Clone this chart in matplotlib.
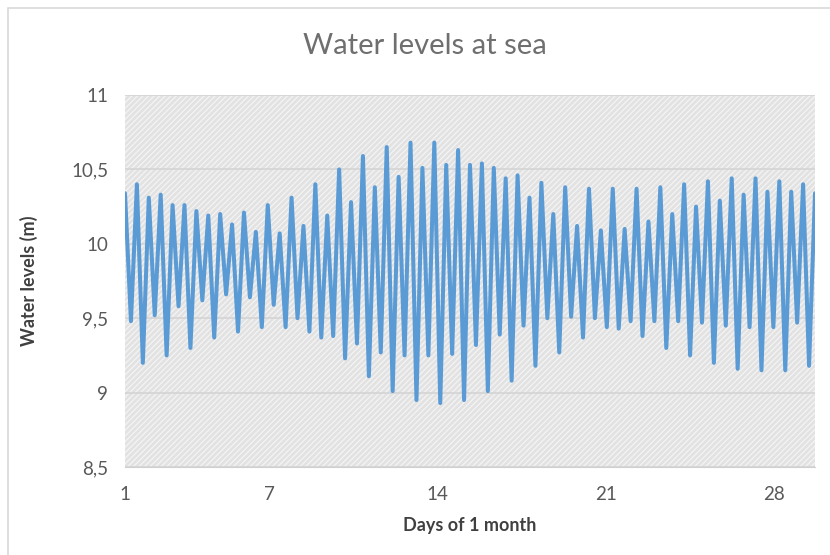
import numpy as np
import matplotlib
matplotlib.use("Agg")
import matplotlib.pyplot as plt
from matplotlib.patches import Rectangle
from matplotlib.ticker import FuncFormatter

high_tides = [10.34, 10.40, 10.31, 10.33, 10.26, 10.26, 10.22, 10.19, 10.20, 10.13,
              10.21, 10.08, 10.26, 10.07, 10.31, 10.12, 10.40, 10.19, 10.50, 10.28,
              10.59, 10.38, 10.65, 10.45, 10.68, 10.51, 10.68, 10.53, 10.63,
              10.53, 10.54, 10.51, 10.44, 10.46, 10.31, 10.41, 10.20, 10.38, 10.12,
              10.37, 10.09, 10.37, 10.10, 10.37, 10.15, 10.38, 10.20, 10.40, 10.25,
              10.42, 10.29, 10.44, 10.33, 10.44, 10.35, 10.42, 10.35, 10.40, 10.34]
low_tides = [9.48, 9.20, 9.52, 9.25, 9.58, 9.30, 9.62, 9.37, 9.66, 9.41,
             9.64, 9.44, 9.59, 9.44, 9.50, 9.41, 9.37, 9.38, 9.23,
             9.33, 9.11, 9.27, 9.01, 9.25, 8.95, 9.25, 8.93, 9.26, 8.95,
             9.32, 9.01, 9.39, 9.08, 9.45, 9.18, 9.50, 9.27, 9.51, 9.37,
             9.50, 9.44, 9.43, 9.48, 9.38, 9.48, 9.30, 9.48, 9.25,
             9.47, 9.20, 9.45, 9.16, 9.44, 9.15, 9.44, 9.15, 9.47, 9.18]
hours_between = 5.94
day_ticks = [1, 7, 14, 21, 28]
level_ticks = [8.5, 9, 9.5, 10, 10.5, 11]

levels = np.empty(len(high_tides) + len(low_tides))
levels[0::2] = high_tides
levels[1::2] = low_tides
days = 1 + np.arange(len(levels)) * hours_between / 24

plt.rcParams['font.family'] = ['Lato', 'DejaVu Sans']
plt.rcParams['hatch.linewidth'] = 0.9

fig = plt.figure(figsize=(8.3, 5.55), dpi=100)
ax = fig.add_axes([125/830, 1-467/555, 690/830, 372/555])

# chart border
fig.patches.append(Rectangle((8/830, -0.1), 1.0, 1.1 - 8/555, transform=fig.transFigure,
                             fill=False, edgecolor='#d9d9d9', linewidth=1.2))

# patterned plot area
ax.set_facecolor('#e2e2e2')
ax.add_patch(Rectangle((0, 0), 1, 1, transform=ax.transAxes, fill=False,
                       hatch='//////', edgecolor='#f4f4f4', linewidth=0, zorder=0))

ax.plot(days, levels, color='#5b9bd5', lw=2.9, solid_joinstyle='round', solid_capstyle='round', zorder=3)

ax.set_xlim(days[0], days[-1])
ax.set_ylim(8.5, 11)
ax.set_xticks(day_ticks)
ax.set_yticks(level_ticks)
ax.yaxis.set_major_formatter(FuncFormatter(lambda v, p: ('%g' % v).replace('.', ',')))
ax.grid(axis='y', color='#d4d4d4', lw=1.2, zorder=1)
ax.set_axisbelow(True)
for s in ['top', 'right', 'left']:
    ax.spines[s].set_visible(False)
ax.spines['bottom'].set_color('#d0d0d0')
ax.tick_params(length=0, labelsize=13.5, colors='#595959')
ax.tick_params(axis='x', pad=14)
ax.tick_params(axis='y', pad=12)

fig.text(425/830, 1-46/555, "Water levels at sea", fontsize=21, color='#6f6f6f',
         ha='center', va='center')
ax.set_xlabel("Days of 1 month", fontsize=13, fontweight='bold', color='#404040', labelpad=10)
ax.set_ylabel("Water levels (m)", fontsize=13, fontweight='bold', color='#404040', labelpad=24)

fig.savefig("out.png", dpi=100)
